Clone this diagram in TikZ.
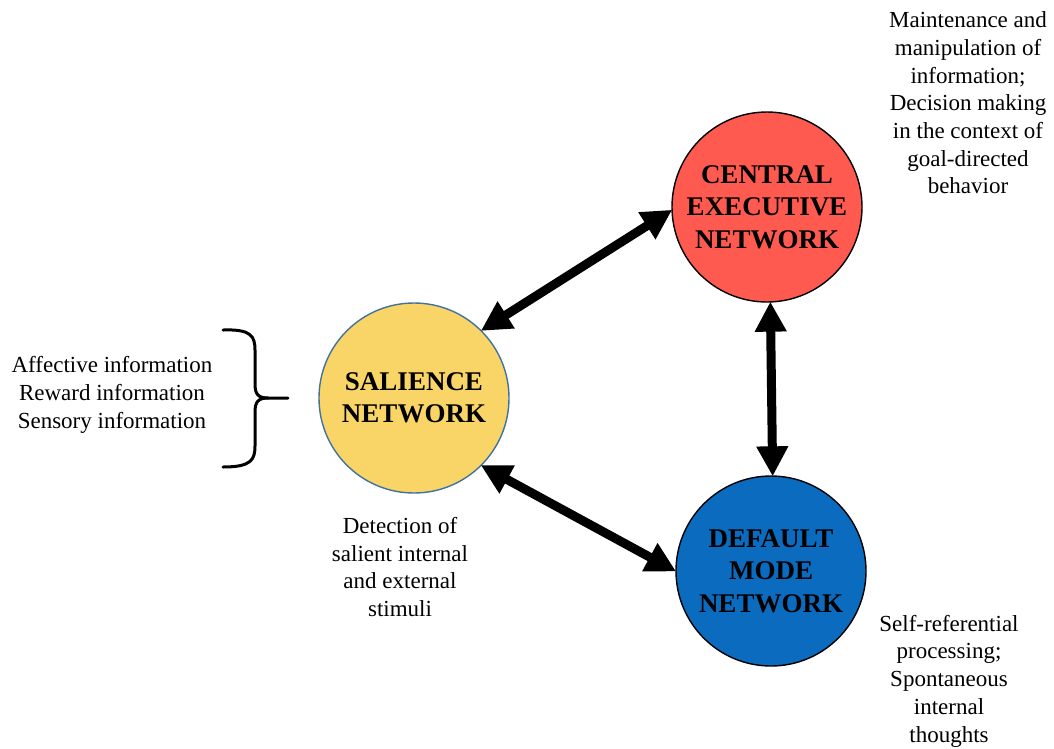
\documentclass[tikz,border=0pt]{standalone}
\usepackage{fontspec}
\setmainfont{Liberation Serif}
\usetikzlibrary{arrows.meta}

\definecolor{salfill}{HTML}{F9D568}
\definecolor{salline}{HTML}{41719C}
\definecolor{cenfill}{HTML}{FF5A50}
\definecolor{dmnfill}{HTML}{0A6BBF}

\tikzset{
  netnode/.style={circle, minimum size=190pt, inner sep=0pt, align=center,
    font=\fontsize{27}{32.5}\selectfont\bfseries, line width=1.4pt},
  note/.style={align=center, inner sep=0pt, font=\fontsize{23}{27.7}\selectfont},
  link/.style={line width=9pt, {Triangle[length=30pt,width=30pt]}-{Triangle[length=30pt,width=30pt]}, shorten <=-1pt, shorten >=-1pt},
  brace/.style={line width=3pt, line cap=round, line join=round}
}

\begin{document}
\begin{tikzpicture}[x=1pt, y=-1pt]
\useasboundingbox (0,0) rectangle (1054,748);

% the three networks
\node[netnode, draw=salline, fill=salfill] (sal) at (414,398) {SALIENCE\\NETWORK};
\node[netnode, draw=black, fill=cenfill] (cen) at (767,207) {CENTRAL\\EXECUTIVE\\NETWORK};
\node[netnode, draw=black, fill=dmnfill] (dmn) at (771,571) {DEFAULT\\MODE\\NETWORK};

% two-way links between networks
\draw[link] (sal.45) -- (cen.182);
\draw[link] (cen.272) -- (dmn.89);
\draw[link] (sal.-45) -- (dmn.180);

% descriptions
\node[note] (cennote) at (968,103) {Maintenance and\\manipulation of\\information;\\Decision making\\in the context of\\goal-directed\\behavior};
\node[note] (dmnnote) at (949,681) {Self-referential\\processing;\\Spontaneous\\internal\\thoughts};
\node[note] (salnote) at (400,567) {Detection of\\salient internal\\and external\\stimuli};
\node[note] (inputs) at (112,395) {Affective information\\Reward information\\Sensory information};

% curly brace gathering the inputs
\coordinate (tip) at (288,398);
\draw[brace] (223,330) .. controls (251,329) and (255,336) .. (255,350)
  -- (255,384) .. controls (255,394) and (258,398) .. (268,398) -- (tip);
\draw[brace] (268,398) .. controls (258,398) and (255,402) .. (255,412)
  -- (255,446) .. controls (255,460) and (251,467) .. (223,467);
\end{tikzpicture}
\end{document}
